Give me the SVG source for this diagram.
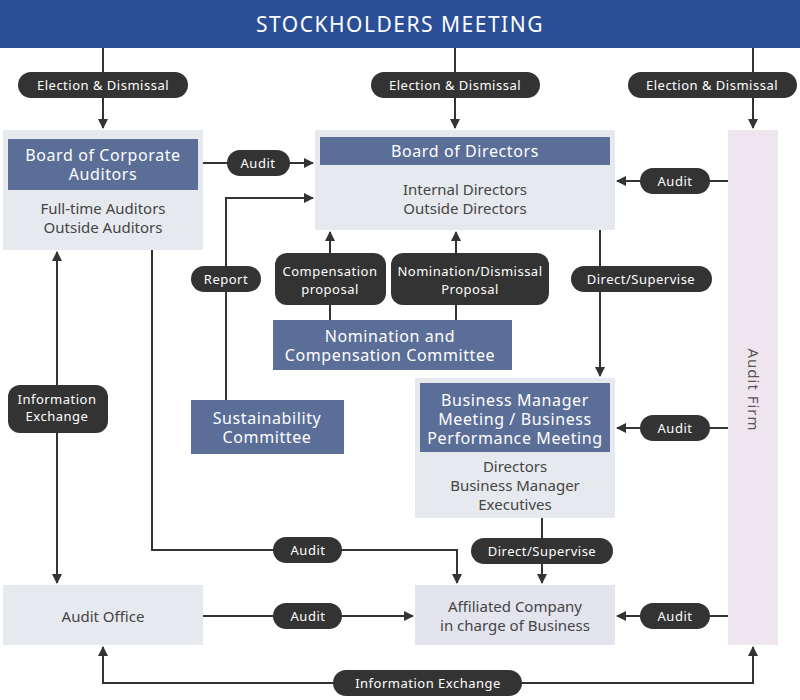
<svg xmlns="http://www.w3.org/2000/svg" width="800" height="700" viewBox="0 0 800 700">
<defs>
<marker id="ah" markerWidth="10" markerHeight="10" refX="9" refY="5" orient="auto" markerUnits="userSpaceOnUse"><path d="M0,0 L10,5 L0,10 z" fill="#333"/></marker>
<style>
text{font-family:"Noto Sans","DejaVu Sans",sans-serif;text-anchor:middle}
.ln{stroke:#333;stroke-width:2;fill:none}
.pill{fill:#333}
.pt{fill:#fff;font-size:13px;letter-spacing:0.5px}
.bx{fill:#e6eaef}
.hd{fill:#5a6e98}
.ht{fill:#fff;font-size:16px;letter-spacing:0.6px}
.gt{fill:#444;font-size:15px}
</style>
</defs>
<rect x="0" y="0" width="800" height="48" fill="#2a4f97"/>
<text x="400" y="32" fill="#fff" font-size="21" letter-spacing="1.5">STOCKHOLDERS MEETING</text>

<g id="auditfirm"><rect x="728" y="130" width="50" height="515" fill="#efe5ef"/><text transform="translate(748,390) rotate(90)" font-size="15" fill="#555" letter-spacing="1">Audit Firm</text></g>
<g id="bca"><rect class="bx" x="3" y="130" width="200" height="120"/><rect class="hd" x="8" y="139" width="190" height="51"/><text class="ht" x="103" y="161">Board of Corporate</text><text class="ht" x="103" y="180">Auditors</text><text class="gt" x="103" y="214">Full-time Auditors</text><text class="gt" x="103" y="233">Outside Auditors</text></g>
<g id="bod"><rect class="bx" x="315" y="130" width="300" height="100"/><rect class="hd" x="320" y="137" width="290" height="28"/><text class="ht" x="465" y="157">Board of Directors</text><text class="gt" x="465" y="195">Internal Directors</text><text class="gt" x="465" y="214">Outside Directors</text></g>
<g id="ncc"><rect class="hd" x="273" y="320" width="239" height="50"/><text class="ht" x="390" y="342">Nomination and</text><text class="ht" x="390" y="361">Compensation Committee</text></g>
<g id="sus"><rect class="hd" x="191" y="400" width="153" height="54"/><text class="ht" x="267" y="424">Sustainability</text><text class="ht" x="267" y="443">Committee</text></g>
<g id="bmm"><rect class="bx" x="415" y="378" width="200" height="140"/><rect class="hd" x="420" y="383" width="190" height="69"/><text class="ht" x="515" y="406">Business Manager</text><text class="ht" x="515" y="425">Meeting / Business</text><text class="ht" x="515" y="444">Performance Meeting</text><text class="gt" x="515" y="472">Directors</text><text class="gt" x="515" y="491">Business Manager</text><text class="gt" x="515" y="510">Executives</text></g>
<g id="aff"><rect x="415" y="585" width="200" height="60" fill="#e3e4ee"/><text class="gt" x="515" y="612">Affiliated Company</text><text class="gt" x="515" y="631">in charge of Business</text></g>
<g id="ao"><rect class="bx" x="3" y="585" width="200" height="60"/><text class="gt" x="103" y="622">Audit Office</text></g>

<g id="connectors">
<path class="ln" d="M103,48 V128" marker-end="url(#ah)"/>
<path class="ln" d="M455,48 V128" marker-end="url(#ah)"/>
<path class="ln" d="M753,48 V128" marker-end="url(#ah)"/>
<path class="ln" d="M203,163 H313" marker-end="url(#ah)"/>
<path class="ln" d="M226,400 V198 H313" marker-end="url(#ah)"/>
<path class="ln" d="M330,320 V232" marker-end="url(#ah)"/>
<path class="ln" d="M456,320 V232" marker-end="url(#ah)"/>
<path class="ln" d="M600,230 V376" marker-end="url(#ah)"/>
<path class="ln" d="M728,181 H617" marker-end="url(#ah)"/>
<path class="ln" d="M728,428 H617" marker-end="url(#ah)"/>
<path class="ln" d="M728,616 H617" marker-end="url(#ah)"/>
<path class="ln" d="M152,250 V550 H457 V583" marker-end="url(#ah)"/>
<path class="ln" d="M542,518 V583" marker-end="url(#ah)"/>
<path class="ln" d="M203,616 H413" marker-end="url(#ah)"/>
<path class="ln" d="M57,400 V252" marker-end="url(#ah)"/>
<path class="ln" d="M57,400 V583" marker-end="url(#ah)"/>
<path class="ln" d="M428,683 H103 V647" marker-end="url(#ah)"/>
<path class="ln" d="M428,683 H753 V647" marker-end="url(#ah)"/>

<rect class="pill" x="18" y="72" width="170" height="26" rx="13"/><text class="pt" x="103" y="90">Election &amp; Dismissal</text>
<rect class="pill" x="371" y="72" width="169" height="26" rx="13"/><text class="pt" x="455" y="90">Election &amp; Dismissal</text>
<rect class="pill" x="628" y="72" width="169" height="26" rx="13"/><text class="pt" x="712" y="90">Election &amp; Dismissal</text>
<rect class="pill" x="227" y="150" width="63" height="26" rx="13"/><text class="pt" x="258" y="168">Audit</text>
<rect class="pill" x="640" y="168" width="70" height="26" rx="13"/><text class="pt" x="675" y="186">Audit</text>
<rect class="pill" x="191" y="266" width="70" height="26" rx="13"/><text class="pt" x="226" y="284">Report</text>
<rect class="pill" x="275" y="253" width="111" height="52" rx="12"/><text class="pt" x="330" y="276">Compensation</text><text class="pt" x="330" y="294">proposal</text>
<rect class="pill" x="391" y="253" width="158" height="52" rx="12"/><text class="pt" x="470" y="276">Nomination/Dismissal</text><text class="pt" x="470" y="294">Proposal</text>
<rect class="pill" x="571" y="266" width="141" height="26" rx="13"/><text class="pt" x="641" y="284">Direct/Supervise</text>
<rect class="pill" x="8" y="385" width="100" height="48" rx="12"/><text class="pt" x="57" y="404">Information</text><text class="pt" x="57" y="421">Exchange</text>
<rect class="pill" x="640" y="415" width="70" height="26" rx="13"/><text class="pt" x="675" y="433">Audit</text>
<rect class="pill" x="273" y="537" width="69" height="26" rx="13"/><text class="pt" x="308" y="555">Audit</text>
<rect class="pill" x="471" y="538" width="142" height="26" rx="13"/><text class="pt" x="542" y="556">Direct/Supervise</text>
<rect class="pill" x="273" y="603" width="69" height="26" rx="13"/><text class="pt" x="308" y="621">Audit</text>
<rect class="pill" x="640" y="603" width="70" height="26" rx="13"/><text class="pt" x="675" y="621">Audit</text>
<rect class="pill" x="333" y="670" width="189" height="26" rx="13"/><text class="pt" x="428" y="688">Information Exchange</text>
</g>
</svg>
